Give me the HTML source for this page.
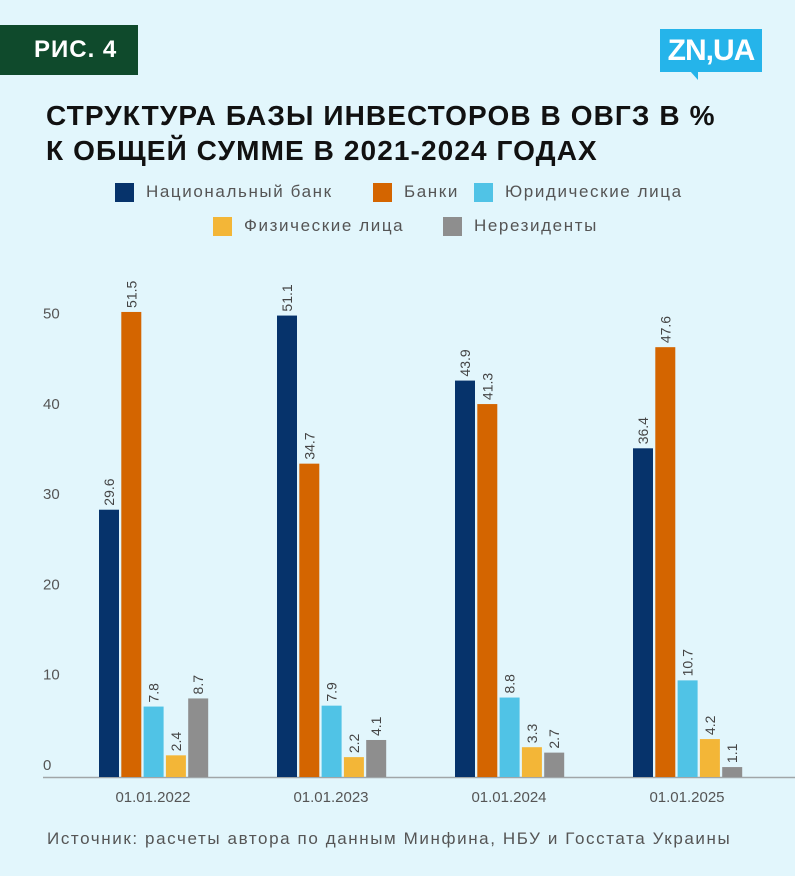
<!DOCTYPE html>
<html><head><meta charset="utf-8">
<style>
body{margin:0;width:795px;height:876px;background:#e2f6fc;font-family:"Liberation Sans","DejaVu Sans",sans-serif;overflow:hidden;position:relative}
.badge{position:absolute;left:0;top:25px;width:138px;height:50px;background:#0f4a2c;color:#fff;font-weight:bold;font-size:24px;line-height:50px;padding-left:34px;box-sizing:border-box;letter-spacing:1px}
.logo{position:absolute;left:660px;top:29px;width:102px;height:43px;background:#25b4ea;color:#fff;font-weight:bold;font-size:30px;line-height:43px;text-align:center;letter-spacing:-1px}
.logo:after{content:"";position:absolute;left:30px;bottom:-8px;border-left:8px solid transparent;border-top:9px solid #25b4ea}
.title{position:absolute;left:46px;top:98px;font-weight:bold;font-size:28px;line-height:35px;color:#111;letter-spacing:1.1px}
.leg{position:absolute;font-size:17px;color:#555;display:flex;align-items:center;letter-spacing:1.6px}
.leg span{display:inline-block;width:19px;height:19px;margin-right:12px}
.src{position:absolute;left:47px;top:829px;font-size:17px;color:#555;letter-spacing:1.6px}
</style></head><body>
<div class="badge">РИС. 4</div>
<div class="logo">ZN,UA</div>
<div class="title">СТРУКТУРА БАЗЫ ИНВЕСТОРОВ В ОВГЗ В %<br>К ОБЩЕЙ СУММЕ В 2021-2024 ГОДАХ</div>
<div class="leg" style="left:115px;top:182px"><span style="background:#06336b"></span>Национальный банк</div>
<div class="leg" style="left:373px;top:182px"><span style="background:#d46500"></span>Банки</div>
<div class="leg" style="left:474px;top:182px"><span style="background:#50c3e6"></span>Юридические лица</div>
<div class="leg" style="left:213px;top:216px"><span style="background:#f3b637"></span>Физические лица</div>
<div class="leg" style="left:443px;top:216px"><span style="background:#8e8e8e"></span>Нерезиденты</div>
<svg id="chart" width="795" height="876" style="position:absolute;left:0;top:0"></svg>
<div class="src">Источник: расчеты автора по данным Минфина, НБУ и Госстата Украины</div>
<script>
const categories=["01.01.2022","01.01.2023","01.01.2024","01.01.2025"];
const nbu=[29.6,51.1,43.9,36.4];
const banks=[51.5,34.7,41.3,47.6];
const legal=[7.8,7.9,8.8,10.7];
const individuals=[2.4,2.2,3.3,4.2];
const nonres=[8.7,4.1,2.7,1.1];
const ticks=[0,10,20,30,40,50];
const series=[nbu,banks,legal,individuals,nonres];
const colors=["#06336b","#d46500","#50c3e6","#f3b637","#8e8e8e"];
const sNames=["nbu","banks","legal","individuals","nonres"];
const NS="http://www.w3.org/2000/svg";
const svg=document.getElementById("chart");
const base=777, scale=9.03;
const y=v=>base-v*scale;
const gx=i=>99+i*178;
function mk(t,a){const e=document.createElementNS(NS,t);for(const k in a)e.setAttribute(k,a[k]);svg.appendChild(e);return e;}
const ax=mk("line",{x1:43,x2:795,y1:base+0.5,y2:base+0.5,stroke:"#a0a6a8","stroke-width":1.5});


ticks.forEach(t=>{
 const e=mk("text",{x:43,y:y(t)-7,"font-size":15,fill:"#555","font-family":"Liberation Sans, sans-serif"});
 e.textContent=t;
 
 
});
categories.forEach((c,i)=>{
 const e=mk("text",{x:gx(i)+54,y:base+25,"font-size":15,fill:"#555","text-anchor":"middle","font-family":"Liberation Sans, sans-serif"});
 e.textContent=c;
 
 
 series.forEach((s,j)=>{
  const x=gx(i)+j*22.3, v=s[i];
  const r=mk("rect",{x:x,y:y(v),width:20,height:v*scale,fill:colors[j]});
  
  
  const tx=x+15, ty=y(v)-4;
  const l=mk("text",{x:tx,y:ty,"font-size":14,fill:"#444","font-family":"Liberation Sans, sans-serif",transform:`rotate(-90 ${tx} ${ty})`});
  l.textContent=v;
  
  
 });
});
</script>
</body></html>
